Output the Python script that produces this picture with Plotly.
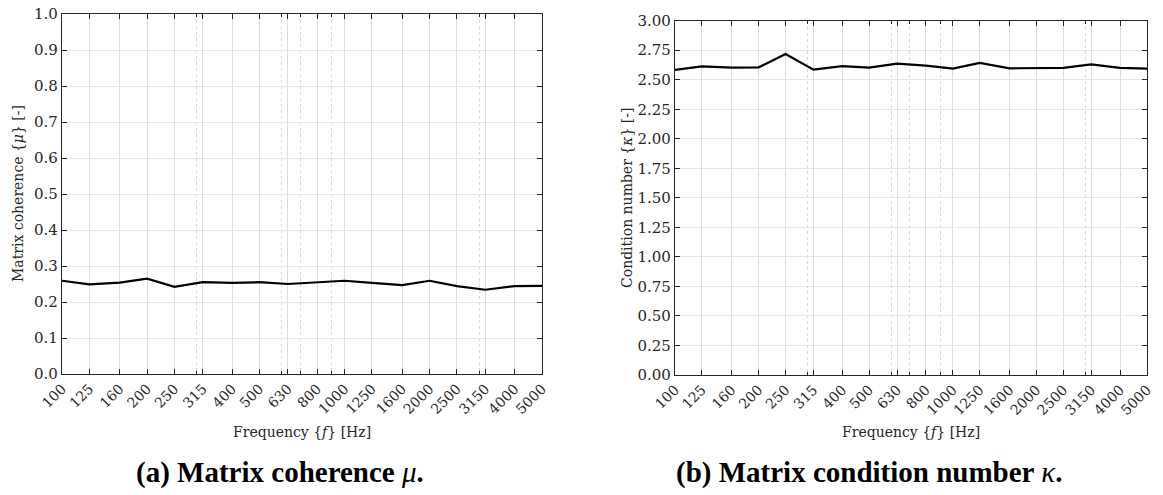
import plotly.graph_objects as go

freqs = [100, 125, 160, 200, 250, 315, 400, 500, 630, 800, 1000, 1250, 1600, 2000, 2500, 3150, 4000, 5000]
tick_labels = [str(f) for f in freqs]
minor_freqs = [300, 600, 700, 900, 3000]

coherence = [0.259, 0.249, 0.254, 0.265, 0.242, 0.255, 0.253, 0.255, 0.250, 0.255,
             0.259, 0.253, 0.247, 0.259, 0.244, 0.234, 0.244, 0.245]
condition = [2.583, 2.614, 2.602, 2.605, 2.718, 2.585, 2.616, 2.602, 2.636, 2.619,
             2.594, 2.642, 2.597, 2.597, 2.600, 2.630, 2.600, 2.594]

W, H = 1163, 495
AX = "#262626"
FONT = "DejaVu Serif"

fig = go.Figure()
fig.add_trace(go.Scatter(x=freqs, y=coherence, mode="lines", line=dict(color="black", width=2.2),
                         xaxis="x", yaxis="y", showlegend=False))
fig.add_trace(go.Scatter(x=freqs, y=condition, mode="lines", line=dict(color="black", width=2.2),
                         xaxis="x2", yaxis="y2", showlegend=False))

def xax(domain, anchor):
    return dict(type="log", domain=domain, anchor=anchor, range=[2, 3.69897], automargin=False,
                tickmode="array", tickvals=freqs, ticktext=tick_labels, tickangle=-45,
                ticks="inside", ticklen=5, tickwidth=1, tickcolor=AX,
                showline=True, linecolor=AX, linewidth=1.3, mirror="ticks",
                showgrid=True, gridcolor="#dcdcdc", gridwidth=1, zeroline=False,
                minor=dict(tickmode="array", tickvals=minor_freqs, ticks="inside", ticklen=3,
                           tickcolor=AX, showgrid=True, gridcolor="#d6d6d6", griddash="dot", gridwidth=1),
                tickfont=dict(family=FONT, size=14, color=AX))

def yax(domain, anchor, rng, dtick, fmt):
    return dict(domain=domain, anchor=anchor, range=rng, dtick=dtick, tick0=0, tickformat=fmt,
                automargin=False,
                ticks="inside", ticklen=5, tickwidth=1, tickcolor=AX,
                showline=True, linecolor=AX, linewidth=1.3, mirror="ticks",
                showgrid=True, gridcolor="#e6e6e6", gridwidth=1, zeroline=False,
                tickfont=dict(family=FONT, size=15, color=AX))

fig.update_layout(
    width=W, height=H, margin=dict(l=0, r=0, t=0, b=0, autoexpand=False),
    paper_bgcolor="white", plot_bgcolor="white", hovermode=False,
    xaxis=xax([62 / W, 542 / W], "y"),
    yaxis=yax([1 - 374 / H, 1 - 14 / H], "x", [0, 1], 0.1, ".1f"),
    xaxis2=xax([675 / W, 1147 / W], "y2"),
    yaxis2=yax([1 - 375 / H, 1 - 20.7 / H], "x2", [0, 3], 0.25, ".2f"),
)

ann = [
    dict(text="Frequency {<i>f</i>} [Hz]", x=302 / W, y=1 - 432 / H),
    dict(text="Frequency {<i>f</i>} [Hz]", x=911 / W, y=1 - 432 / H),
    dict(text="Matrix coherence {<i>μ</i>} [-]", x=18 / W, y=1 - 194 / H, textangle=-90),
    dict(text="Condition number {<i>κ</i>} [-]", x=627 / W, y=1 - 198 / H, textangle=-90),
]
for a in ann:
    fig.add_annotation(xref="paper", yref="paper", showarrow=False, xanchor="center", yanchor="middle",
                       font=dict(family=FONT, size=14, color=AX), **a)

caps = [
    dict(text="<b>(a) Matrix coherence </b><i>μ</i><b>.</b>", x=280 / W),
    dict(text="<b>(b) Matrix condition number </b><i>κ</i><b>.</b>", x=869 / W),
]
for c in caps:
    fig.add_annotation(xref="paper", yref="paper", showarrow=False, xanchor="center", yanchor="middle",
                       y=1 - 472 / H, font=dict(family="Liberation Serif", size=29, color="black"), **c)

fig.write_html("out.html", config={"displayModeBar": False},
               post_script="document.body.style.margin='0';")
